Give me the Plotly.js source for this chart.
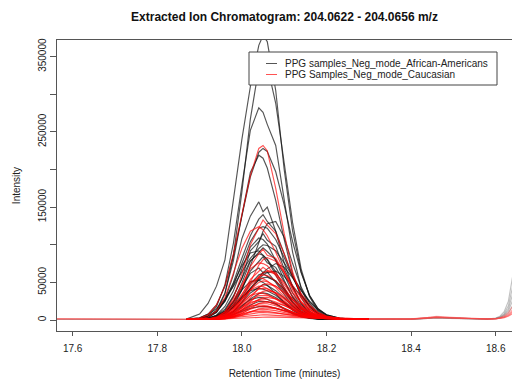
<!DOCTYPE html>
<html>
<head>
<meta charset="utf-8">
<script src="https://cdn.plot.ly/plotly-3.0.1.min.js"></script>
<style>html,body{margin:0;padding:0;background:#fff;}#chart{width:512px;height:380px;}</style>
</head>
<body>
<div id="chart"></div>
<script>
// Retention times (minutes) for the peak window
const rt = [17.87,17.90,17.92,17.94,17.96,17.98,18.00,18.02,18.04,18.05,18.06,18.08,18.10,18.12,18.14,18.16,18.18,18.20,18.23,18.26,18.30];

// Intensities (thousands) – African-American samples
const afam = [
[1.5,8,22,45,80,160,240,310,365,378,370,305,200,118,64,32,15,7,2.5,1.4,1.0],
[0.9,1.5,3.5,11,35,86,170,267,335,345,338,288,209,129,68,31,12,4.5,1.5,1,0.8],
[1,2,5.8,17.6,47,102,179,252,282,276,260,232,160,90,42,17,6.5,2.5,1.2,0.9,0.8],
[1.2,2.5,7.8,20,45,86,138,190,223,228,224,197,153,104,63,33,15,6.4,2.2,1.1,0.9],
[0.8,1.7,3.7,13,36,79,139,196,219,215,202,159,107,61,30,12,4.4,1.8,1,0.8,0.7],
[0.8,1.4,3.5,10,27,60,108,138,157,144,150,118,76,44,22,9,3.5,1.6,1,0.8,0.7],
[1,2,5,12,26,50,82,112,134,140,131,118,88,58,34,18,8,3.5,1.3,0.9,0.8],
[0.7,0.8,1.2,2.5,7,18,40,72,104,118,128,131,110,75,44,22,9,3.5,1.2,0.9,0.7],
[1,1.4,4.2,11,25,46,75,104,122,124,122,107,83,57,34,18,8.3,3.5,1.3,0.9,0.8],
[0.7,0.9,1.3,3.7,12,31,55,92,104,115,106,98,68,45,22,10,3.9,1.3,0.9,0.8,0.7],
[0.7,1.1,1.9,6.4,18,39,69,97,109,107,101,79,53,30,15,6.1,2.2,1,0.8,0.7,0.7],
[1.2,3,7.5,15,28,45,64,82,95,100,99,92,76,58,40,25,14,7,2.5,1.2,0.8],
[0.7,0.9,1.5,3.8,10,24,49,78,90,96,91,80,60,36,19,8.5,3.3,1.2,0.8,0.7,0.7],
[0.9,1.8,4.5,11,25,48,72,89,92,86,80,60,40,23,11,5,2,1,0.8,0.7,0.7],
[0.7,1,2.2,5.9,14.3,32,56,79,88,86,81,64,43,24,12,5,1.8,1,0.8,0.7,0.7],
[0.7,0.8,1.2,3.2,8.5,21,41,65,78,84,76,70,51,31,17,7.5,2.9,1.1,0.8,0.7,0.7],
[0.8,1.2,2.2,4.5,9,17,28,42,56,63,68,75,70,56,39,24,13,6,2,1,0.8],
[0.7,1,1.9,4.7,11.2,25,44,62,69,63,64,50,34,19,9.3,3.9,1.6,0.9,0.8,0.7,0.7],
[0.8,1.2,2.5,5,10,18,29,42,54,60,63,65,58,45,31,19,10,4.5,1.5,0.9,0.8],
[0.7,0.8,1,2.5,6.6,16,31,48,60,62,58,52,38,23,12,5.5,2.1,1,0.8,0.7,0.7],
[0.7,0.8,1,1.8,4.5,11,24,41,53,56,57,52,41,27,15,7,2.8,1.2,0.8,0.7,0.7],
[0.7,1,1.8,4.5,11,24,40,51,53,50,46,35,23,13,6.3,2.7,1.2,0.9,0.8,0.7,0.7],
[0.7,0.8,1,2,5.4,12,23,36,44,47,46,39,29,18,9.6,4.4,1.8,0.9,0.8,0.7,0.7],
[0.8,1.3,2.6,5.9,12,20,31,39,42,41,39,33,24,15,8.6,4.3,2,1,0.8,0.7,0.7],
[0.7,0.8,0.9,1.8,4.3,9.4,18,28,35,36,35,30,22,14,7.4,3.4,1.4,0.8,0.7,0.7,0.7],
[0.7,0.8,1.2,2.4,5.6,11.5,19.5,27,30,29.4,27.7,22,14.6,8.5,4.2,2,1,0.8,0.7,0.7,0.7],
[0.7,0.7,0.8,1.5,3.2,6.9,13,20,24.5,25,24.6,21,15.5,9.7,5.3,2.6,1.3,0.8,0.7,0.7,0.7],
[0.7,0.9,1.3,2.3,4.3,7.5,11.6,15.5,17.8,18,17.8,16,12.6,8.8,5.6,3.2,1.8,1.1,0.8,0.7,0.7]
];

// Intensities (thousands) – Caucasian samples
const cauc = [
[1,2.5,7,20,45,88,140,192,228,232,225,175,115,64,32,15,7.5,4,2.5,1.8,1.2],
[0.8,0.9,1.1,3.1,10.6,29,61,100,122,133,126,115,88,59,35,20,10,5.2,2.4,1.6,1.1],
[0.8,1.5,4,12,30,62,95,118,124,120,112,90,64,40,23,12,6.5,4,2.5,1.6,1.1],
[0.8,0.9,1.3,2.9,8.2,21,44,71,88,94,86,82,63,42,25,14,7.7,4.2,2.1,1.5,1.2],
[0.8,0.8,1,1.7,4.4,12,27.5,51,73,80,83,78,64,46,29,17.5,9.5,5,2.2,1.4,1],
[0.8,1,1.6,4.1,11,25.5,47,68,76,75,72,59,43,27,15.5,8.5,4.8,3,1.7,1.2,1],
[0.8,0.9,1.2,2.4,6.4,16,33,54,64,70,66,63,47,32,19,11,6.2,3.6,2,1.4,1],
[0.8,0.8,0.9,1.5,3.7,9.6,22,40,57,63,65,61,50,36,23.5,14,7.8,4.4,2,1.3,1],
[0.8,0.9,1.1,2.2,5.6,14,28,46,58,60,59,52,40,27,16.5,9.5,5.5,3.2,1.8,1.2,0.9],
[0.8,0.9,1.4,3.3,8.4,19,35,50,56,55,52,43,31,20,11.5,6.6,4,2.5,1.6,1.1,0.9],
[0.8,0.9,1.1,2,5,12,24.6,40,50,52,51,45,35,23.5,14.5,8.5,5,3,1.7,1.2,0.9],
[0.8,0.8,0.9,1.3,2.9,7.3,16.4,30,42.5,47,48,45,37,27,17.5,10.5,6,3.5,1.9,1.3,0.9],
[0.8,0.9,1.3,2.8,6.9,15.4,28,40,45,44.3,42,35,25.5,16.5,9.6,5.5,3.4,2.2,1.5,1.1,0.9],
[0.8,0.8,1,1.8,4.2,9.9,20,32.5,41,42,41.3,36.2,28,19.5,12,7.2,4.5,2.8,1.6,1.1,0.9],
[0.8,0.8,0.9,1.2,2.5,6,13.5,24.5,35,38,39,36.5,30,22,14.3,8.8,5.2,3.1,1.8,1.2,0.9],
[0.8,0.9,1.2,2.4,5.7,12.5,22.6,32.5,36,35.4,33.7,28,20.7,13.3,7.9,4.9,3.2,2.1,1.5,1.1,0.9],
[0.8,0.8,1,1.6,3.4,7.9,16,25.7,32.6,33,32.5,28.4,22.6,15.5,9.7,6.3,4,2.6,1.6,1.1,0.9],
[0.8,0.8,0.9,1.1,2.1,4.8,10.5,19,27.3,29.5,30,28,23.8,17.4,11.2,7.3,4.5,2.9,1.7,1.2,0.9],
[0.8,0.8,0.9,1.4,3,6.8,13.6,22,27.3,28,27.6,24,19.3,13.3,8.4,5.3,3.5,2.3,1.5,1.1,0.9],
[0.8,0.9,1.1,1.9,4.3,9.3,16.6,23.7,26,25.6,24.3,20.8,15.2,9.8,6,3.8,2.6,1.8,1.4,1.1,0.9],
[0.8,0.8,0.8,1.1,1.9,4,8.6,15.4,22,23.3,24,22.5,19.2,14,9.1,6,4,2.6,1.6,1.1,0.9],
[0.8,0.8,0.9,1.3,2.6,5.5,10.9,17.4,22,22,21.6,19,14.6,10.6,6.8,4.5,3,2.2,1.5,1.1,0.9],
[0.8,0.8,1,1.7,3.5,7.3,13,18.4,20,19.7,18.7,15.4,11.8,7.7,4.8,3.3,2.4,1.8,1.3,1,0.9],
[0.8,0.8,0.9,1.2,2.2,4.7,9,14.4,17.8,18,17.7,15.5,12.7,9,6.2,4.3,3,2.2,1.5,1.1,0.9],
[0.8,0.8,0.8,1,1.5,3,6,10.5,14.8,15.5,16,15,12.8,9.6,6.5,4.5,3.3,2.4,1.6,1.1,0.9],
[0.8,0.8,0.9,1.1,1.9,3.8,7.2,11.3,13.7,14,13.8,12.4,10,7.3,5,3.6,2.7,2,1.4,1.1,0.9],
[0.8,0.8,0.9,1.3,2.4,4.7,8,10.9,12,11.8,11.4,9.7,7.6,5.3,3.6,2.7,2.1,1.6,1.3,1,0.9],
[0.8,0.9,1.1,1.6,2.7,4.4,6.6,8.6,9.8,10,9.9,9.2,7.9,6.4,4.8,3.6,2.7,2.1,1.5,1.1,0.9],
[0.8,0.9,1.1,1.5,2.3,3.4,4.7,5.9,6.7,7,6.9,6.5,5.8,4.9,4,3.2,2.5,1.9,1.4,1.1,0.9],
[0.8,0.8,0.9,1.1,1.5,2,2.6,3.2,3.7,3.9,4,3.9,3.6,3.2,2.7,2.2,1.8,1.5,1.2,1,0.9]
];

// Faint parts of the chromatograms outside the peak window
const rtHead = [17.56,17.64,17.72,17.80,17.87];
const headGray = [[1.0,0.9,0.8,0.7,0.8],[0.8,0.7,0.7,0.6,0.7]];
const headPink = [[1.5,1.3,1.1,1.0,1.0],[1.2,1.1,1.0,0.9,0.9],[1.8,1.5,1.3,1.1,1.0]];
const rtTail = [18.28,18.34,18.40,18.44,18.46,18.49,18.54,18.58,18.60,18.61,18.62,18.63,18.64];
const tailGray = [
[1.2,0.8,1,2.2,3,2.4,1.3,1.2,2.5,5,11,25,58],
[1.1,0.8,1.1,2.6,3.5,2.8,1.5,1.3,2.2,4,8.5,19,44],
[1.3,0.9,1.2,2.8,3.8,3,1.6,1.4,2,3.5,7,15,34],
[1,0.8,1,2,2.8,2.2,1.2,1.1,1.8,3,6,12,26],
[1.2,0.9,1.1,2.3,3.1,2.5,1.4,1.2,1.6,2.5,4.5,9,19]
];
const tailPink = [
[1.6,1.1,1.4,3.2,4.2,3.4,1.9,1.5,1.9,3,5.5,10,18],
[1.4,1,1.3,2.8,3.6,3,1.7,1.4,1.7,2.5,4.2,7.5,14],
[1.3,0.9,1.2,2.5,3.3,2.7,1.5,1.3,1.5,2.1,3.5,6,11],
[1.5,1.1,1.5,3.5,4.8,3.8,2,1.6,1.8,2.4,3.8,6.5,12],
[1.2,0.9,1.1,2.2,3,2.4,1.4,1.2,1.4,1.9,3,5,9],
[1.7,1.2,1.6,3,4,3.3,1.9,1.6,1.7,2.2,3.2,5.2,8.5]
];

const xTickVals = [17.6,17.8,18.0,18.2,18.4,18.6];
const xTickText = ['17.6','17.8','18.0','18.2','18.4','18.6'];
const yTickVals = [0,50,100,150,200,250,300,350];
const yTickText = ['0','50000','','150000','','250000','','350000'];
const seriesNames = ['PPG samples_Neg_mode_African-Americans','PPG Samples_Neg_mode_Caucasian'];
const seriesColors = ['rgba(20,20,20,0.72)','rgba(255,0,0,0.68)'];

const traces = [];
function add(x, y, color) {
  traces.push({x: x, y: y, type: 'scatter', mode: 'lines', showlegend: false,
    hoverinfo: 'skip', line: {color: color, width: 1.15}});
}
headGray.forEach(y => add(rtHead, y, 'rgba(120,120,120,0.45)'));
headPink.forEach(y => add(rtHead, y, 'rgba(255,70,70,0.4)'));
tailGray.forEach(y => add(rtTail, y, 'rgba(120,120,120,0.45)'));
tailPink.forEach(y => add(rtTail, y, 'rgba(255,70,70,0.4)'));
afam.forEach(y => add(rt, y, seriesColors[0]));
cauc.forEach(y => add(rt, y, seriesColors[1]));

// plot-area pixel geometry
const L = 57, R = 512, T = 40, B = 331;
const px = x => (x - L) / (R - L);
const py = y => (B - y) / (B - T);
const font = 'Liberation Sans, Arial, Helvetica, sans-serif';
const row1 = 63.5, row2 = 74.5;

const shapes = [
  {type: 'rect', xref: 'paper', yref: 'paper', x0: px(249), x1: px(497), y0: py(85), y1: py(52),
   fillcolor: '#ffffff', line: {color: '#444', width: 1}, layer: 'above'},
  {type: 'line', xref: 'paper', yref: 'paper', x0: px(266), x1: px(277), y0: py(row1), y1: py(row1),
   line: {color: seriesColors[0], width: 1}, layer: 'above'},
  {type: 'line', xref: 'paper', yref: 'paper', x0: px(266), x1: px(277), y0: py(row2), y1: py(row2),
   line: {color: seriesColors[1], width: 1}, layer: 'above'}
];
const annotations = [
  {xref: 'paper', yref: 'paper', x: px(284), y: py(row1), xanchor: 'left', yanchor: 'middle',
   text: seriesNames[0], showarrow: false, borderpad: 0, font: {family: font, size: 10, color: '#222'}},
  {xref: 'paper', yref: 'paper', x: px(284), y: py(row2), xanchor: 'left', yanchor: 'middle',
   text: seriesNames[1], showarrow: false, borderpad: 0, font: {family: font, size: 10, color: '#222'}}
];

const layout = {
  width: 512, height: 380,
  margin: {l: L, r: 512 - R, t: T, b: 380 - B, pad: 0},
  paper_bgcolor: '#fff', plot_bgcolor: '#fff',
  font: {family: font, size: 10, color: '#222'},
  showlegend: false,
  title: {text: 'Extracted Ion Chromatogram: 204.0622 - 204.0656 m/z',
    font: {family: font, size: 12, color: '#111', weight: 'bold'},
    x: 0.5, xref: 'paper', y: 1 - 17 / 380, yref: 'container', yanchor: 'middle'},
  xaxis: {range: [17.563, 18.6385], tickvals: xTickVals, ticktext: xTickText,
    showgrid: false, zeroline: false, showline: true, mirror: true, linecolor: '#555', linewidth: 1,
    ticks: 'outside', ticklen: 4, tickcolor: '#555', tickfont: {size: 10, color: '#222'},
    ticklabelstandoff: 4,
    title: {text: 'Retention Time (minutes)', font: {size: 10, color: '#222'}, standoff: 16},
    automargin: false},
  yaxis: {range: [-14.6, 372.1], tickvals: yTickVals, ticktext: yTickText, tickangle: -90,
    showgrid: false, zeroline: false, showline: true, linecolor: '#555', linewidth: 1,
    ticks: 'outside', ticklen: 6, tickcolor: '#555', tickfont: {size: 10, color: '#222'},
    title: {text: 'Intensity', font: {size: 10, color: '#222'}, standoff: 14},
    automargin: false},
  shapes: shapes,
  annotations: annotations
};

Plotly.newPlot('chart', traces, layout, {displayModeBar: false, staticPlot: true});
</script>
</body>
</html>
